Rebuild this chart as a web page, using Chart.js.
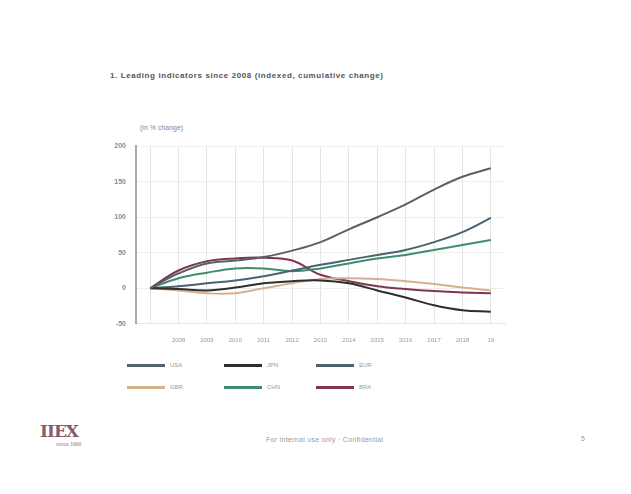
<!DOCTYPE html>
<html>
<head>
<meta charset="utf-8">
<script src="https://cdn.jsdelivr.net/npm/chart.js@4"></script>
<style>
  body { margin: 0; width: 631px; height: 494px; background: #fff; font-family: "Liberation Sans", Arial, sans-serif; position: relative; overflow: hidden; }
  .title { position: absolute; left: 110px; top: 71px; font-size: 8px; font-weight: bold; color: #555; letter-spacing: 0.6px; }
  .unit { position: absolute; left: 140px; top: 124px; font-size: 7px; color: #888; }
  .chart-box { position: absolute; left: 100px; top: 132px; width: 410px; height: 225px; }
  .legend { position: absolute; left: 127px; top: 362px; width: 300px; display: grid; grid-template-columns: 97px 92px 100px; row-gap: 16px; font-size: 6px; color: #999; }
  .legend-item { display: flex; align-items: center; }
  .legend-swatch { width: 38px; height: 3px; margin-right: 5px; }
  .logo { position: absolute; left: 40px; top: 421px; font-size: 17px; font-weight: bold; color: #8a5a68; letter-spacing: -1px; font-family: "DejaVu Serif", serif; }
  .logo small { display: block; font-size: 5px; letter-spacing: 0; color: #b89aa4; margin-left: 16px; font-family: "Liberation Sans", sans-serif; }
  .footer { position: absolute; left: 266px; top: 436px; font-size: 7px; color: #999; letter-spacing: 0.3px; }
  .page { position: absolute; left: 581px; top: 435px; font-size: 7px; color: #999; }
</style>
</head>
<body>
<div class="title">1. Leading indicators since 2008 (indexed, cumulative change)</div>
<div class="unit">(in % change)</div>
<div class="chart-box"><canvas id="chart"></canvas></div>
<div class="legend" id="legend"></div>
<div class="logo">IIEX<small>since 1990</small></div>
<div class="footer">For internal use only · Confidential</div>
<div class="page">5</div>

<script>
  // --- data ---
  const periods = ['', '2008', '2009', '2010', '2011', '2012', '2013', '2014', '2015', '2016', '2017', '2018', '19'];
  const yTicks = [-50, 0, 50, 100, 150, 200];

  const usa = [0, 21, 35, 39, 44, 53, 65, 83, 100, 118, 139, 157, 169];
  const jpn = [0, -1, -3, 1, 7, 10, 11, 7, -3, -13, -24, -31, -33];
  const eur = [0, 3, 7, 11, 17, 25, 33, 40, 47, 54, 65, 79, 99];
  const gbr = [0, -3, -7, -7, 0, 7, 13, 14, 13, 10, 6, 1, -3];
  const chn = [0, 14, 22, 28, 28, 24, 28, 35, 42, 47, 54, 61, 68];
  const bra = [0, 25, 38, 42, 43, 39, 19, 10, 3, -1, -4, -6, -7];

  const seriesNames = ['USA', 'JPN', 'EUR', 'GBR', 'CHN', 'BRA'];
  const seriesData = [usa, jpn, eur, gbr, chn, bra];
  const seriesColors = ['#55626a', '#2b2f2e', '#4b6270', '#d7b08c', '#3f8d6e', '#7d3550'];

  const datasets = seriesNames.map((name, i) => ({
    label: name,
    data: seriesData[i],
    borderColor: seriesColors[i],
    borderWidth: 2,
    pointRadius: 0,
    tension: 0.4,
    fill: false
  }));

  const ctx = document.getElementById('chart').getContext('2d');
  new Chart(ctx, {
    type: 'line',
    data: { labels: periods, datasets },
    options: {
      responsive: true,
      maintainAspectRatio: false,
      animation: false,
      layout: { padding: { top: 14, right: 5 } },
      plugins: { legend: { display: false }, tooltip: { enabled: false } },
      scales: {
        x: {
          offset: true,
          grid: { color: '#e4e4e4', offset: false, drawTicks: false },
          border: { color: '#e4e4e4' },
          ticks: { color: '#999', font: { size: 6 }, maxRotation: 0, padding: 13 }
        },
        y: {
          min: -50,
          max: 200,
          afterBuildTicks: s => { s.ticks = yTicks.map(v => ({ value: v })); },
          afterFit: s => { s.width = 36; },
          grid: { color: '#eeeeee', drawTicks: false },
          border: { color: '#aaa', width: 2 },
          ticks: { color: '#888', font: { size: 7, weight: 'bold' }, padding: 10 }
        }
      }
    }
  });

  // legend in three columns, built from the datasets
  const legendEl = document.getElementById('legend');
  datasets.forEach(ds => {
    const item = document.createElement('div');
    item.className = 'legend-item';
    item.innerHTML = `<span class="legend-swatch" style="background:${ds.borderColor}"></span>${ds.label}`;
    legendEl.appendChild(item);
  });
</script>
</body>
</html>
